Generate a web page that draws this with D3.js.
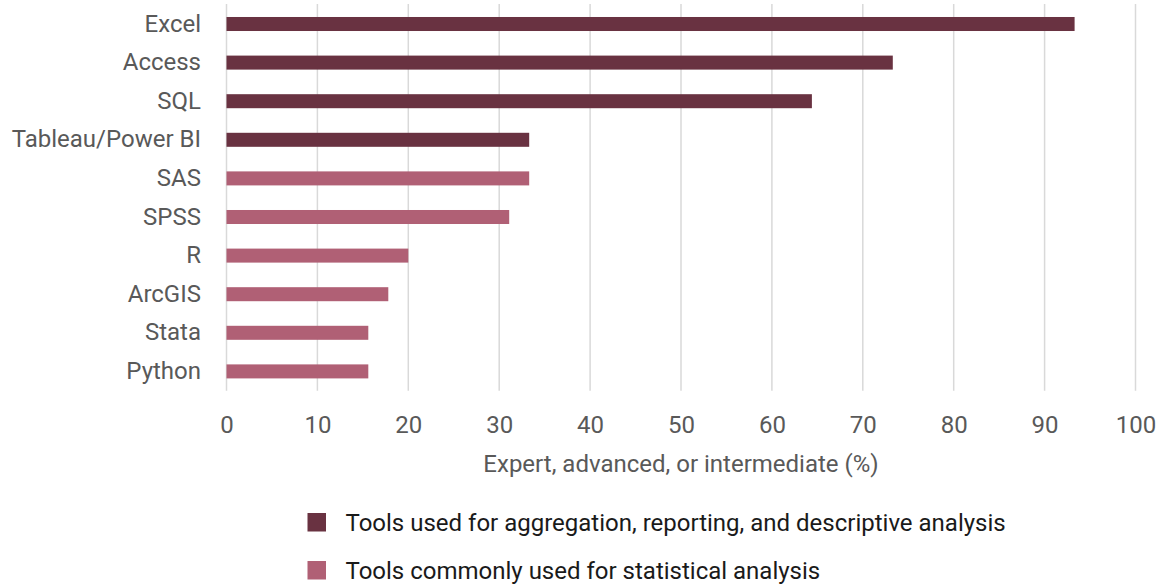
<!DOCTYPE html>
<html>
<head>
<meta charset="utf-8">
<script src="https://cdn.jsdelivr.net/npm/d3@7"></script>
<style>
  html, body { margin: 0; padding: 0; background: #fff; }
  svg { display: block; font-family: Roboto, "Noto Sans", sans-serif; }
</style>
</head>
<body>
<svg id="chart" width="1161" height="584"></svg>
<script>
const categories = ["Excel", "Access", "SQL", "Tableau/Power BI", "SAS", "SPSS", "R", "ArcGIS", "Stata", "Python"];
const values = [93.3, 73.3, 64.4, 33.3, 33.3, 31.1, 20.0, 17.8, 15.6, 15.6];
const groups = ["agg", "agg", "agg", "agg", "stat", "stat", "stat", "stat", "stat", "stat"];
const seriesKeys = ["agg", "stat"];
const seriesLabels = ["Tools used for aggregation, reporting, and descriptive analysis", "Tools commonly used for statistical analysis"];
const seriesColors = ["#693241", "#b06075"];
const xTicks = [0, 10, 20, 30, 40, 50, 60, 70, 80, 90, 100];
const xTitle = "Expert, advanced, or intermediate (%)";

const svg = d3.select("#chart");
const plotLeft = 226.5, plotRight = 1135.5, plotTop = 4.7, plotBottom = 390.7;
const fontSize = 24;

const x = d3.scaleLinear().domain([0, 100]).range([plotLeft, plotRight]);
const y = d3.scaleBand().domain(categories).range([plotTop, plotBottom]).paddingInner(0.637).paddingOuter(0.3185);
const color = d3.scaleOrdinal().domain(seriesKeys).range(seriesColors);

// gridlines
svg.append("g").selectAll("line").data(xTicks).join("line")
  .attr("x1", d => x(d)).attr("x2", d => x(d))
  .attr("y1", plotTop - 0.7).attr("y2", plotBottom)
  .attr("stroke", "#d9d9d9").attr("stroke-width", 1.5);

// bars
svg.append("g").selectAll("rect").data(categories).join("rect")
  .attr("x", x(0))
  .attr("y", d => y(d))
  .attr("width", (d, i) => x(values[i]) - x(0))
  .attr("height", y.bandwidth())
  .attr("fill", (d, i) => color(groups[i]));

// y axis labels
const yAxis = d3.axisLeft(y).tickSize(0).tickPadding(0);
const gy = svg.append("g").attr("transform", `translate(${201},0)`).call(yAxis)
  .attr("font-size", fontSize).attr("font-family", "Roboto, sans-serif");
gy.select(".domain").remove();
gy.selectAll("text").attr("fill", "#595959");

// x axis labels
const xAxis = d3.axisBottom(x).tickValues(xTicks).tickSize(0).tickPadding(0);
const gx = svg.append("g").attr("transform", `translate(0,${416})`).call(xAxis)
  .attr("font-size", fontSize).attr("font-family", "Roboto, sans-serif");
gx.select(".domain").remove();
gx.selectAll("text").attr("fill", "#595959");

// x title
svg.append("text")
  .attr("x", (plotLeft + plotRight) / 2).attr("y", 472)
  .attr("text-anchor", "middle")
  .attr("font-size", fontSize).attr("fill", "#595959")
  .text(xTitle);

// legend
const legend = svg.append("g").selectAll("g").data(seriesKeys).join("g")
  .attr("transform", (d, i) => `translate(307.5,${513 + i * 48})`);
legend.append("rect").attr("width", 18.5).attr("height", 18.5)
  .attr("fill", d => color(d));
legend.append("text").attr("x", 38).attr("y", 9.5).attr("dy", "0.35em")
  .attr("font-size", fontSize).attr("fill", "#1a1a1a")
  .text((d, i) => seriesLabels[i]);
</script>
</body>
</html>
